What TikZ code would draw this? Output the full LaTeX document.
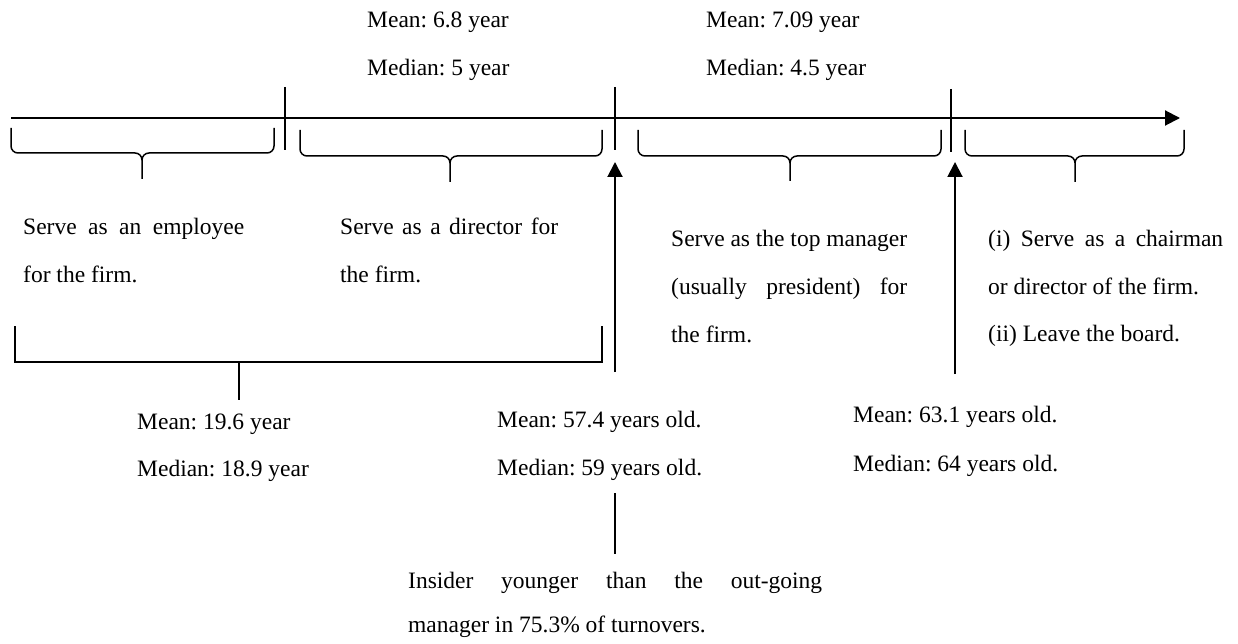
\documentclass[tikz,border=0pt]{standalone}
\usepackage{fontspec}
\setmainfont{Liberation Serif}
\usetikzlibrary{arrows.meta}
\frenchspacing
\newcommand\mybrace[6]{%
  \draw[brace] (#1,#4) -- (#1,#5-7) to[out=-90,in=180] (#1+7,#5) -- (#3-7,#5)
    to[out=0,in=90] (#3,#5+7) -- (#3,#6);
  \draw[brace] (#2,#4) -- (#2,#5-7) to[out=-90,in=0] (#2-7,#5) -- (#3+7,#5)
    to[out=180,in=90] (#3,#5+7);
}
\begin{document}
\begin{tikzpicture}[x=1pt,y=-1pt,
  txt/.style={anchor=base west,inner sep=0pt,font=\fontsize{23.5}{28}\selectfont\frenchspacing},
  axis/.style={line width=2pt},
  brace/.style={line width=1.5pt},
  tick/.style={line width=2pt},
  tip/.style={-{Triangle[length=15pt,width=15pt]}},
]
\useasboundingbox (0,0) rectangle (1238,644);

% main time axis
\coordinate (ax0) at (11,118);
\coordinate (ax1) at (1180,118);
\draw[axis,tip] (ax0) -- (ax1);

% ticks
\coordinate (k1a) at (285,87);  \coordinate (k1b) at (285,150);
\coordinate (k2a) at (615,87);  \coordinate (k2b) at (615,150);
\coordinate (k3a) at (951,89);  \coordinate (k3b) at (951,152);
\draw[tick] (k1a) -- (k1b);
\draw[tick] (k2a) -- (k2b);
\draw[tick] (k3a) -- (k3b);

% braces under the axis
\mybrace{11}{274}{142}{128}{153}{179}
\mybrace{300}{602}{450}{130}{156}{182}
\mybrace{638}{941}{790}{130}{156}{181}
\mybrace{965}{1184}{1075}{130}{156}{182}

% up arrows
\coordinate (u1s) at (615,372); \coordinate (u1e) at (615,162);
\coordinate (u2s) at (955,374); \coordinate (u2e) at (955,162);
\draw[axis,tip] (u1s) -- (u1e);
\draw[axis,tip] (u2s) -- (u2e);

% bottom bracket
\coordinate (b1) at (15,326); \coordinate (b2) at (15,362);
\coordinate (b3) at (602,362); \coordinate (b4) at (602,326);
\coordinate (bs1) at (239,362); \coordinate (bs2) at (239,400);
\draw[brace] (b1) -- (b2) -- (b3) -- (b4);
\draw[brace] (bs1) -- (bs2);

% short segment
\coordinate (sg1) at (615,493); \coordinate (sg2) at (615,554);
\draw[tick] (sg1) -- (sg2);

% top texts
\node[txt] (d1) at (367,28) {Mean: 6.8 year};
\node[txt] (d2) at (367,76) {Median: 5 year};
\node[txt] (p1) at (706,28) {Mean: 7.09 year};
\node[txt] (p2) at (706,76) {Median: 4.5 year};

% stage texts
\node[txt] (e1) at (23,235) {\makebox[221pt][s]{Serve as an employee}};
\node[txt] (e2) at (23,282) {for the firm.};
\node[txt] (r1) at (340,235) {\makebox[218pt][s]{Serve as a director for}};
\node[txt] (r2) at (340,282) {the firm.};
\node[txt] (m1) at (671,247) {\makebox[236pt][s]{Serve as the top manager}};
\node[txt] (m2) at (671,294) {\makebox[236pt][s]{(usually president) for}};
\node[txt] (m3) at (671,342) {the firm.};
\node[txt] (c1) at (988,246) {\makebox[235pt][s]{(i) Serve as a chairman}};
\node[txt] (c2) at (988,294) {or director of the firm.};
\node[txt] (c3) at (988,341) {(ii) Leave the board.};

% bottom texts
\node[txt] (s1) at (137,429) {Mean: 19.6 year};
\node[txt] (s2) at (137,476) {Median: 18.9 year};
\node[txt] (a1) at (497,427) {Mean: 57.4 years old.};
\node[txt] (a2) at (497,475) {Median: 59 years old.};
\node[txt] (o1) at (853,422) {Mean: 63.1 years old.};
\node[txt] (o2) at (853,471) {Median: 64 years old.};
\node[txt] (i1) at (408,588) {\makebox[414pt][s]{Insider younger than the out-going}};
\node[txt] (i2) at (408,632) {manager in 75.3\% of turnovers.};
\end{tikzpicture}
\end{document}
